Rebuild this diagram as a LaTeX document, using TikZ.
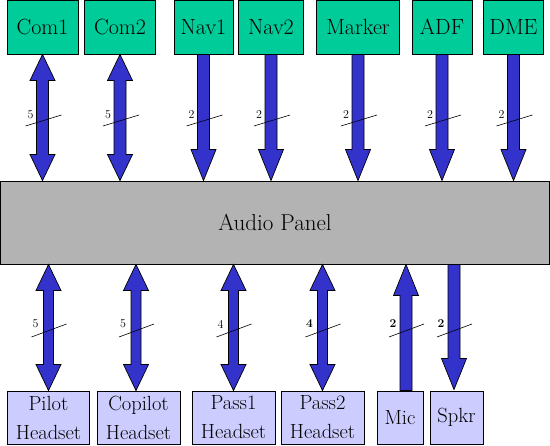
\documentclass[tikz,border=0pt]{standalone}
\usepackage{fontspec}
\usetikzlibrary{calc}
\definecolor{topfill}{RGB}{0,204,153}
\definecolor{busblue}{RGB}{51,51,204}
\definecolor{botfill}{RGB}{204,204,255}
\definecolor{panelgray}{RGB}{179,179,179}
\tikzset{
  box/.style={draw=black, line width=0.9pt, inner sep=0pt, align=center,
    font=\rmfamily\fontsize{22}{29}\selectfont},
  topbox/.style={box, fill=topfill, minimum height=54},
  botbox/.style={box, fill=botfill, minimum height=53,
    font=\rmfamily\fontsize{20.5}{29}\selectfont},
  panelbox/.style={draw=black, line width=0.9pt, fill=panelgray,
    minimum width=549, minimum height=83, font=\rmfamily\fontsize{23}{28}\selectfont},
  arrowbase/.style={draw=black, line width=0.7pt, fill=busblue, line join=miter},
  bidir/.style={arrowbase, to path={
    let \p1=(\tikztostart), \p2=(\tikztotarget),
        \p3=($(\p2)!26pt!(\p1)$), \p4=($(\p1)!26pt!(\p2)$) in
    (\p1) -- (\x1+12.5pt,\y4) -- (\x1+#1,\y4) -- (\x1+#1,\y3) -- (\x1+12.5pt,\y3)
    -- (\p2) -- (\x1-12.5pt,\y3) -- (\x1-#1,\y3) -- (\x1-#1,\y4) -- (\x1-12.5pt,\y4) -- cycle}},
  bidir/.default=6pt,
  uni/.style={arrowbase, to path={
    let \p1=(\tikztostart), \p2=(\tikztotarget),
        \p3=($(\p2)!31pt!(\p1)$) in
    (\x1-6pt,\y1) -- (\x1+6pt,\y1) -- (\x1+6pt,\y3) -- (\x1+12.5pt,\y3)
    -- (\p2) -- (\x1-12.5pt,\y3) -- (\x1-6pt,\y3) -- cycle}},
  slash/.style={draw=black, line width=0.6pt},
  buslbl/.style={inner sep=0pt, font=\rmfamily\fontsize{12}{12}\selectfont},
  boldlbl/.style={buslbl, font=\rmfamily\fontsize{12}{12}\selectfont\bfseries},
}
\begin{document}
\begin{tikzpicture}[x=1pt,y=-1pt]
\useasboundingbox (0,0) rectangle (550,446);
% top boxes
\node[topbox, minimum width=71] (com1) at (42.5,27) {Com1};
\node[topbox, minimum width=71] (com2) at (120,27) {Com2};
\node[topbox, minimum width=59] (nav1) at (203.5,27) {Nav1};
\node[topbox, minimum width=65] (nav2) at (271,27) {Nav2};
\node[topbox, minimum width=83] (marker) at (358,27) {Marker};
\node[topbox, minimum width=60] (adf) at (442,27) {ADF};
\node[topbox, minimum width=60] (dme) at (513.5,27) {DME};
% panel
\node[panelbox] (panel) at (275,222.5) {Audio Panel};
% bottom boxes
\node[botbox, minimum width=82] (pilot) at (48.5,417.5) {Pilot\\Headset};
\node[botbox, minimum width=83] (copilot) at (138.5,417.5) {Copilot\\Headset};
\node[botbox, minimum width=83] (pass1) at (233.5,417.5) {Pass1\\Headset};
\node[botbox, minimum width=83] (pass2) at (322.5,417.5) {Pass2\\Headset};
\node[botbox, minimum width=46] (mic) at (400,417.5) {Mic};
\node[botbox, minimum width=53] (spkr) at (456.5,417.5) {Spkr};
% anchor points of bottom arrows
\coordinate (pilA) at (pilot.north);
\coordinate (copA) at ([xshift=-2.5pt]copilot.north);
\coordinate (p1A) at (pass1.north);
\coordinate (p2A) at (pass2.north);
\coordinate (micA) at ([xshift=6pt]mic.north);
\coordinate (spkA) at ([xshift=-2.5pt]spkr.north);
% top arrows
\draw[bidir] (com1.south) to (com1.south |- panel.north);
\draw[bidir] (com2.south) to (com2.south |- panel.north);
\draw[uni] (nav1.south) to (nav1.south |- panel.north);
\draw[uni] (nav2.south) to (nav2.south |- panel.north);
\draw[uni] (marker.south) to (marker.south |- panel.north);
\draw[uni] (adf.south) to (adf.south |- panel.north);
\draw[uni] (dme.south) to (dme.south |- panel.north);
% bottom arrows
\draw[bidir=5pt] (pilA |- panel.south) to (pilA);
\draw[bidir=5pt] (copA |- panel.south) to (copA);
\draw[bidir=5pt] (p1A |- panel.south) to (p1A);
\draw[bidir=5pt] (p2A |- panel.south) to (p2A);
\draw[uni] (micA) to (micA |- panel.south);
\draw[uni] (spkA |- panel.south) to ([yshift=1pt]spkA);
% bus marks top
\coordinate (mc1) at (com1.south |- 0,120.5);
\coordinate (mc2) at (com2.south |- 0,120.5);
\coordinate (mn1) at (nav1.south |- 0,120.5);
\coordinate (mn2) at (nav2.south |- 0,120.5);
\coordinate (mmk) at (marker.south |- 0,120.5);
\coordinate (mad) at (adf.south |- 0,120.5);
\coordinate (mdm) at (dme.south |- 0,120.5);
\foreach \m/\t in {mc1/5,mc2/5,mn1/2,mn2/2,mmk/2,mad/2,mdm/2}{
  \draw[slash] (\m) +(-17,5.5) -- +(19,-5.5);
  \node[buslbl] (l\m) at ([shift={(-12,-5.5)}]\m) {\t};
}
% bus marks bottom
\coordinate (mpi) at (pilA |- 0,330.5);
\coordinate (mco) at (copA |- 0,330.5);
\coordinate (mp1) at (p1A |- 0,330.5);
\coordinate (mp2) at (p2A |- 0,330.5);
\coordinate (mmi) at (micA |- 0,330.5);
\coordinate (msp) at (spkA |- 0,330.5);
\foreach \m/\t in {mpi/5,mco/5,mp1/4}{
  \draw[slash] (\m) +(-17,6.5) -- +(18,-6.5);
  \node[buslbl] (l\m) at ([shift={(-13,-6.5)}]\m) {\t};
}
\foreach \m/\t in {mp2/4,mmi/2,msp/2}{
  \draw[slash] (\m) +(-17,6.5) -- +(18,-6.5);
  \node[boldlbl] (l\m) at ([shift={(-13,-6.5)}]\m) {\t};
}
\end{tikzpicture}
\end{document}
